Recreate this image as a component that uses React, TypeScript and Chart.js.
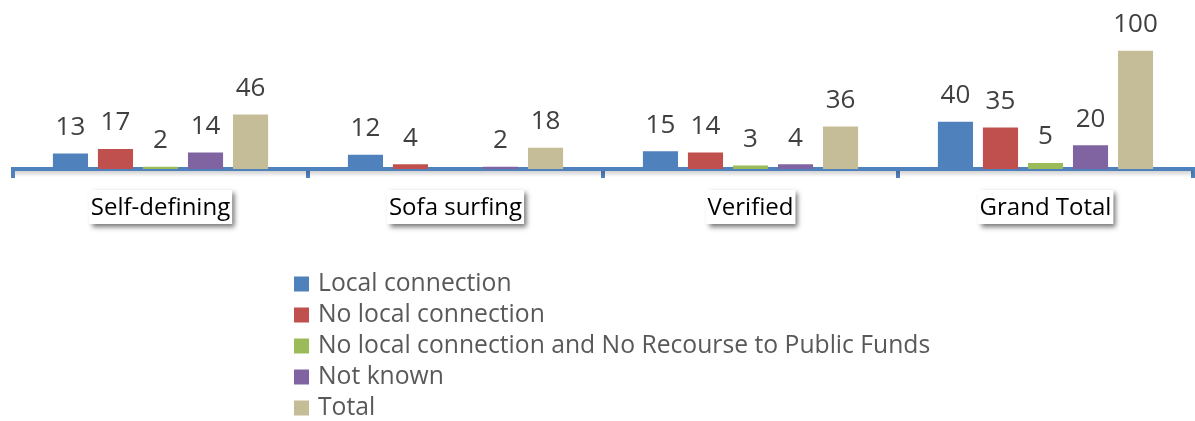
import { useEffect, useRef } from 'react';
import { Chart, registerables } from 'chart.js';

Chart.register(...registerables);

const categories = ['Self-defining', 'Sofa surfing', 'Verified', 'Grand Total'];
const seriesNames = [
  'Local connection',
  'No local connection',
  'No local connection and No Recourse to Public Funds',
  'Not known',
  'Total',
];
const localConnection = [13, 12, 15, 40];
const noLocalConnection = [17, 4, 14, 35];
const noLocalNoRecourse = [2, null, 3, 5];
const notKnown = [14, 2, 4, 20];
const totals = [46, 18, 36, 100];
const seriesColors = ['#4F81BD', '#C0504D', '#9BBB59', '#8064A2', '#C4BD97'];

const FONT = '"Open Sans", "Liberation Sans", sans-serif';

const axisShadowPlugin = {
  id: 'axisShadow',
  afterDraw(chart: any) {
    const ctx = chart.ctx;
    const a = chart.chartArea;
    ctx.save();
    const g = ctx.createLinearGradient(0, a.bottom + 2, 0, a.bottom + 8);
    g.addColorStop(0, 'rgba(0,0,0,0.18)');
    g.addColorStop(1, 'rgba(0,0,0,0)');
    ctx.fillStyle = g;
    ctx.fillRect(a.left + 2, a.bottom + 2, a.right - a.left - 2, 6);
    ctx.restore();
  },
};

const dataLabelsPlugin = {
  id: 'dataLabels',
  afterDatasetsDraw(chart: any) {
    const ctx = chart.ctx;
    ctx.save();
    ctx.font = `26px ${FONT}`;
    ctx.fillStyle = '#404040';
    ctx.textAlign = 'center';
    ctx.textBaseline = 'middle';
    chart.data.datasets.forEach((ds: any, di: number) => {
      const meta = chart.getDatasetMeta(di);
      meta.data.forEach((el: any, i: number) => {
        const v = ds.data[i];
        if (v === null || v === undefined) return;
        ctx.fillText(String(v), el.x, el.y - 26);
      });
    });
    ctx.restore();
  },
};

const categoryBoxesPlugin = {
  id: 'categoryBoxes',
  afterDraw(chart: any) {
    const ctx = chart.ctx;
    const xs = chart.scales.x;
    ctx.save();
    ctx.font = `24px ${FONT}`;
    ctx.textAlign = 'center';
    ctx.textBaseline = 'middle';
    const cy = 207;
    chart.data.labels.forEach((lab: string, i: number) => {
      const x = xs.getPixelForValue(i);
      const w = ctx.measureText(lab).width + 4;
      const h = 34;
      ctx.save();
      ctx.shadowColor = 'rgba(0,0,0,0.55)';
      ctx.shadowBlur = 5;
      ctx.shadowOffsetX = 3;
      ctx.shadowOffsetY = 3;
      ctx.fillStyle = '#ffffff';
      ctx.fillRect(x - w / 2, cy - h / 2, w, h);
      ctx.restore();
      ctx.fillStyle = '#000000';
      ctx.fillText(lab, x, cy + 1);
    });
    ctx.restore();
  },
};

const legendPlugin = {
  id: 'customLegend',
  afterDraw(chart: any) {
    const ctx = chart.ctx;
    ctx.save();
    ctx.font = `24.7px ${FONT}`;
    ctx.textAlign = 'left';
    ctx.textBaseline = 'middle';
    chart.data.datasets.forEach((ds: any, i: number) => {
      const cy = 284 + i * 31;
      ctx.fillStyle = ds.backgroundColor;
      ctx.fillRect(294, cy - 7.5, 15, 15);
      ctx.fillStyle = '#595959';
      ctx.fillText(ds.label, 318, cy);
    });
    ctx.restore();
  },
};

export default function App() {
  const ref = useRef<HTMLCanvasElement>(null);
  useEffect(() => {
    const values = [localConnection, noLocalConnection, noLocalNoRecourse, notKnown, totals];
    const chart = new Chart(ref.current as HTMLCanvasElement, {
      type: 'bar',
      data: {
        labels: categories,
        datasets: seriesNames.map((name, i) => ({
          label: name,
          data: values[i] as any,
          backgroundColor: seriesColors[i],
          categoryPercentage: 0.763,
          barPercentage: 0.78,
        })),
      },
      options: {
        responsive: false,
        animation: false,
        layout: { padding: { top: 27, left: 13, right: 2, bottom: 0 } },
        plugins: { legend: { display: false }, tooltip: { enabled: false } },
        scales: {
          x: {
            z: 1,
            offset: true,
            ticks: { display: false },
            grid: {
              display: true,
              offset: true,
              drawOnChartArea: false,
              drawTicks: true,
              tickLength: 9,
              lineWidth: 4,
              color: '#4F81BD',
            },
            border: { display: true, color: '#4F81BD', width: 4 },
            afterFit(scale: any) {
              scale.height = 252;
            },
          },
          y: {
            display: false,
            min: 0,
            max: 120,
          },
        },
      },
      plugins: [axisShadowPlugin, dataLabelsPlugin, categoryBoxesPlugin, legendPlugin],
    });
    return () => chart.destroy();
  }, []);
  return (
    <div style={{ position: 'fixed', left: 0, top: 0, width: 1195, height: 421, background: '#ffffff' }}>
      <canvas ref={ref} width={1195} height={421} style={{ display: 'block' }} />
    </div>
  );
}
